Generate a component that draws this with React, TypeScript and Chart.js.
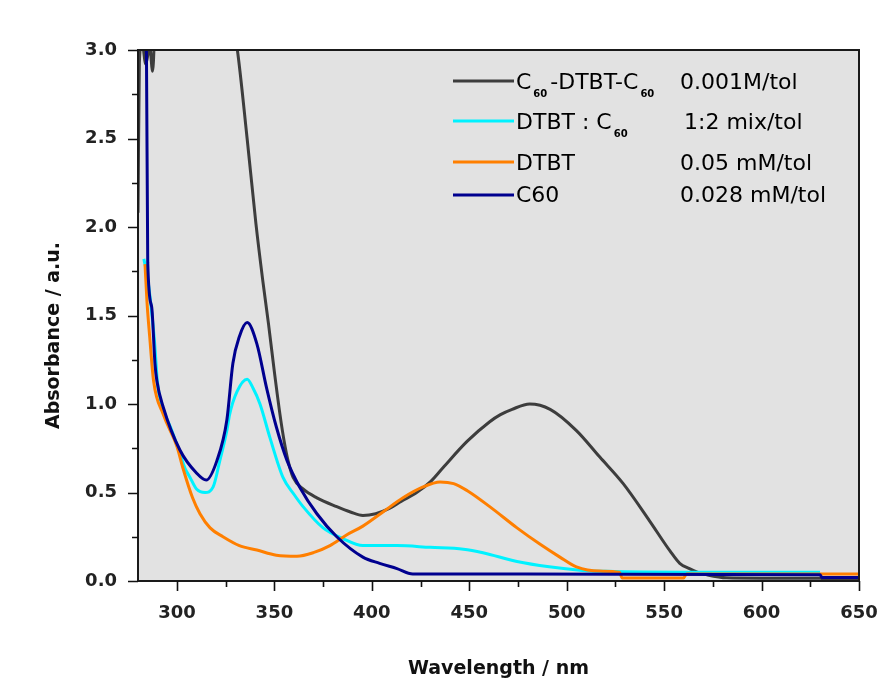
import React, { useEffect, useRef } from 'react';
import { Chart, registerables } from 'chart.js';

Chart.register(...registerables);

// ---- axis ranges / ticks ----
const X_MIN = 280;
const X_MAX = 650;
const Y_MIN = 0;
const Y_MAX = 3;
const X_TICKS = [300, 350, 400, 450, 500, 550, 600, 650];
const Y_TICKS = [0, 0.5, 1, 1.5, 2, 2.5, 3];

const X_TITLE = 'Wavelength / nm';
const Y_TITLE = 'Absorbance / a.u.';

// ---- C60-DTBT-C60, 0.001M/tol ----
const TRIAD_NM = [280, 280.7, 282, 284, 286, 287.5, 289, 300, 310, 320, 327, 331, 336, 340.5, 344, 347, 350, 353, 355, 357, 359.6, 364.7, 371.8, 382, 389, 395.4, 402, 409, 415, 423, 430, 436.5, 449, 460.5, 466, 472, 481, 491.5, 505, 517, 529, 542.5, 553, 558, 563, 567, 572, 582, 600, 630, 632, 650];
const TRIAD_ABS = [2.08, 2.93, 3.05, 2.92, 3.02, 2.88, 3.2, 3.5, 3.6, 3.5, 3.25, 3.0, 2.5, 2.02, 1.7, 1.45, 1.18, 0.93, 0.79, 0.68, 0.585, 0.52, 0.47, 0.42, 0.39, 0.37, 0.38, 0.41, 0.45, 0.50, 0.56, 0.64, 0.79, 0.90, 0.94, 0.97, 1.00, 0.97, 0.85, 0.70, 0.55, 0.34, 0.17, 0.10, 0.07, 0.05, 0.035, 0.018, 0.016, 0.016, 0.01, 0.01];

// ---- DTBT : C60 1:2 mix/tol ----
const MIX_NM = [283, 284.5, 286, 288.5, 290, 293, 297, 301.5, 304, 306.7, 310, 314.4, 318.5, 322, 325.6, 327, 330.8, 336, 339, 342.6, 347.7, 354.4, 360, 364.7, 375, 385, 395.4, 412.9, 430, 447, 457, 474.5, 491, 508, 520, 560, 630];
const MIX_ABS = [1.82, 1.74, 1.62, 1.35, 1.12, 0.97, 0.86, 0.72, 0.64, 0.585, 0.52, 0.50, 0.53, 0.68, 0.85, 0.94, 1.07, 1.14, 1.09, 1.00, 0.81, 0.585, 0.49, 0.42, 0.30, 0.24, 0.20, 0.20, 0.19, 0.18, 0.16, 0.11, 0.08, 0.06, 0.055, 0.05, 0.05];

// ---- DTBT 0.05 mM/tol ----
const DTBT_NM = [283.6, 284.6, 286, 288, 293, 300, 303, 308, 311.8, 317, 323.6, 332, 341, 351, 361.6, 370, 378.5, 387, 395.4, 405.7, 416, 426, 435, 442, 449, 460.5, 474.5, 486, 496.5, 505, 517, 527, 528.5, 560, 561.5, 650];
const DTBT_ABS = [1.79, 1.58, 1.38, 1.13, 0.94, 0.76, 0.64, 0.47, 0.38, 0.30, 0.25, 0.20, 0.175, 0.146, 0.14, 0.16, 0.20, 0.26, 0.31, 0.39, 0.47, 0.53, 0.56, 0.55, 0.51, 0.42, 0.30, 0.21, 0.135, 0.08, 0.056, 0.05, 0.017, 0.017, 0.04, 0.04];

// ---- C60 0.028 mM/tol ----
const C60_NM = [283, 284.3, 285, 287, 288.7, 289.7, 293, 301.5, 310, 315, 320.5, 325.6, 328.7, 332, 336, 341, 346, 351, 356.5, 363, 371.8, 382, 395.4, 404, 412.9, 421, 630, 631, 650];
const C60_ABS = [3.3, 3.05, 1.8, 1.55, 1.23, 1.13, 0.98, 0.74, 0.61, 0.57, 0.68, 0.91, 1.23, 1.38, 1.46, 1.34, 1.09, 0.87, 0.68, 0.53, 0.38, 0.25, 0.135, 0.10, 0.07, 0.04, 0.035, 0.02, 0.02];

const SERIES_NAMES = ['C60-DTBT-C60 0.001M/tol', 'DTBT : C60 1:2 mix/tol', 'DTBT 0.05 mM/tol', 'C60 0.028 mM/tol'];

// legend text pieces (with subscripts) and right-hand column
const LEGEND_LEFT = [
  [{ t: 'C' }, { t: '60', sub: true }, { t: '-DTBT-C' }, { t: '60', sub: true }],
  [{ t: 'DTBT : C' }, { t: '60', sub: true }],
  [{ t: 'DTBT' }],
  [{ t: 'C60' }],
];
const LEGEND_RIGHT = ['0.001M/tol', '1:2 mix/tol', '0.05 mM/tol', '0.028 mM/tol'];

const COLORS = ['#3d3d3d', '#00f2ff', '#ff7f00', '#00008f'];

const toPoints = (xs: number[], ys: number[]) => xs.map((x, i) => ({ x, y: ys[i] }));

const FONT = '"DejaVu Sans", Verdana, sans-serif';

const decorPlugin = {
  id: 'decor',
  beforeDatasetsDraw(chart: any) {
    const { ctx, chartArea: a } = chart;
    ctx.save();
    ctx.fillStyle = '#e2e2e2';
    ctx.fillRect(a.left, a.top, a.right - a.left, a.bottom - a.top);
    ctx.restore();
  },
  afterDatasetsDraw(chart: any) {
    const { ctx, chartArea: a, scales } = chart;
    const xs = scales.x;
    const ys = scales.y;
    ctx.save();
    ctx.strokeStyle = '#1a1a1a';
    ctx.lineWidth = 2;
    ctx.strokeRect(a.left, a.top, a.right - a.left, a.bottom - a.top);
    ctx.lineWidth = 1.6;
    ctx.strokeStyle = '#111';
    const xMinor: number[] = [];
    for (let i = 0; i < X_TICKS.length - 1; i++) xMinor.push((X_TICKS[i] + X_TICKS[i + 1]) / 2);
    const yMinor: number[] = [];
    for (let i = 0; i < Y_TICKS.length - 1; i++) yMinor.push((Y_TICKS[i] + Y_TICKS[i + 1]) / 2);
    ctx.beginPath();
    X_TICKS.forEach((v) => {
      const p = Math.round(xs.getPixelForValue(v)) + 0.5;
      ctx.moveTo(p, a.bottom);
      ctx.lineTo(p, a.bottom + 10);
    });
    xMinor.forEach((v) => {
      const p = Math.round(xs.getPixelForValue(v)) + 0.5;
      ctx.moveTo(p, a.bottom);
      ctx.lineTo(p, a.bottom + 6);
    });
    Y_TICKS.forEach((v) => {
      const p = Math.round(ys.getPixelForValue(v)) + 0.5;
      ctx.moveTo(a.left, p);
      ctx.lineTo(a.left - 10, p);
    });
    yMinor.forEach((v) => {
      const p = Math.round(ys.getPixelForValue(v)) + 0.5;
      ctx.moveTo(a.left, p);
      ctx.lineTo(a.left - 6, p);
    });
    ctx.stroke();
    ctx.restore();
  },
  afterDraw(chart: any) {
    const { ctx, chartArea: a } = chart;
    ctx.save();
    ctx.translate(54, (a.top + a.bottom) / 2 + 20);
    ctx.rotate(-Math.PI / 2);
    ctx.font = `bold 19px ${FONT}`;
    ctx.fillStyle = '#111';
    ctx.textAlign = 'center';
    ctx.textBaseline = 'middle';
    ctx.fillText(Y_TITLE, 0, 0);
    ctx.restore();

    const lineY = [81, 121, 162, 195];
    const baseY = [89, 129, 170, 202];
    const rightX = [680, 684, 680, 680];
    ctx.save();
    ctx.textBaseline = 'alphabetic';
    ctx.fillStyle = '#000';
    LEGEND_LEFT.forEach((parts, i) => {
      ctx.strokeStyle = COLORS[i];
      ctx.lineWidth = 3;
      ctx.beginPath();
      ctx.moveTo(453, lineY[i]);
      ctx.lineTo(514, lineY[i]);
      ctx.stroke();
      let x = 516;
      parts.forEach((p: any) => {
        if (p.sub) {
          ctx.font = `bold 10px ${FONT}`;
          ctx.fillText(p.t, x + 2, baseY[i] + 8);
          x += ctx.measureText(p.t).width + 5;
        } else {
          ctx.font = `22px ${FONT}`;
          ctx.fillText(p.t, x, baseY[i]);
          x += ctx.measureText(p.t).width;
        }
      });
      ctx.font = `22px ${FONT}`;
      ctx.fillText(LEGEND_RIGHT[i], rightX[i], baseY[i]);
    });
    ctx.restore();
  },
};

export default function App() {
  const ref = useRef<HTMLCanvasElement | null>(null);

  useEffect(() => {
    if (!ref.current) return;
    const series = [
      { name: SERIES_NAMES[0], pts: toPoints(TRIAD_NM, TRIAD_ABS), color: COLORS[0], order: 3 },
      { name: SERIES_NAMES[1], pts: toPoints(MIX_NM, MIX_ABS), color: COLORS[1], order: 2 },
      { name: SERIES_NAMES[2], pts: toPoints(DTBT_NM, DTBT_ABS), color: COLORS[2], order: 1 },
      { name: SERIES_NAMES[3], pts: toPoints(C60_NM, C60_ABS), color: COLORS[3], order: 0 },
    ];
    const tickFont = { family: FONT, size: 18, weight: 'bold' as const };
    const chart = new Chart(ref.current, {
      type: 'line',
      data: {
        datasets: series.map((s) => ({
          label: s.name,
          data: s.pts,
          borderColor: s.color,
          backgroundColor: s.color,
          borderWidth: 3,
          pointRadius: 0,
          fill: false,
          cubicInterpolationMode: 'monotone' as const,
          order: s.order,
        })),
      },
      options: {
        animation: false,
        responsive: false,
        layout: { padding: { top: 50, right: 25, left: 0, bottom: 0 } },
        plugins: { legend: { display: false }, tooltip: { enabled: false } },
        scales: {
          x: {
            type: 'linear',
            min: X_MIN,
            max: X_MAX,
            grid: { display: false },
            border: { display: false },
            afterBuildTicks: (s: any) => {
              s.ticks = X_TICKS.map((v) => ({ value: v }));
            },
            afterFit: (s: any) => {
              s.height = 100;
              s.paddingLeft = 0;
              s.paddingRight = 0;
            },
            ticks: {
              padding: 14,
              color: '#222',
              font: tickFont,
              maxRotation: 0,
              autoSkip: false,
              callback: (v: any) => String(v),
            },
            title: {
              display: true,
              text: X_TITLE,
              color: '#111',
              font: { family: FONT, size: 19, weight: 'bold' },
              padding: { top: 0, bottom: 1 },
            },
          },
          y: {
            type: 'linear',
            min: Y_MIN,
            max: Y_MAX,
            grid: { display: false },
            border: { display: false },
            afterBuildTicks: (s: any) => {
              s.ticks = Y_TICKS.map((v) => ({ value: v }));
            },
            afterFit: (s: any) => {
              s.width = 138;
              s.paddingTop = 0;
              s.paddingBottom = 0;
            },
            ticks: {
              padding: 13,
              color: '#222',
              font: tickFont,
              callback: (v: any) => Number(v).toFixed(1),
            },
          },
        },
      },
      plugins: [decorPlugin],
    });
    return () => chart.destroy();
  }, []);

  return (
    <div style={{ position: 'absolute', left: 0, top: 0, width: 884, height: 681, background: '#fff' }}>
      <canvas ref={ref} width={884} height={681} style={{ display: 'block' }} />
    </div>
  );
}
